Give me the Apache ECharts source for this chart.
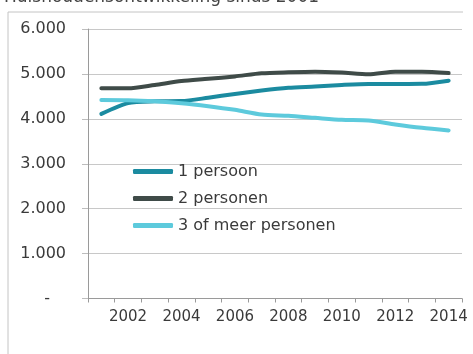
<!DOCTYPE html>
<html>
<head>
<meta charset="utf-8">
<script src="https://cdn.jsdelivr.net/npm/echarts@6/dist/echarts.min.js"></script>
<style>
  html, body { margin: 0; padding: 0; background: #fff; }
  #chart { width: 473px; height: 354px; }
</style>
</head>
<body>
<div id="chart"></div>
<script>
// Huishoudens naar grootte, 2001-2014
const years = ['2001','2002','2003','2004','2005','2006','2007','2008','2009','2010','2011','2012','2013','2014'];
const eenPersoon = [4110, 4350, 4390, 4395, 4470, 4555, 4630, 4690, 4720, 4755, 4778, 4778, 4780, 4850];
const tweePersonen = [4680, 4680, 4755, 4840, 4890, 4945, 5015, 5037, 5050, 5030, 4995, 5050, 5050, 5020];
const drieOfMeer = [4420, 4415, 4390, 4348, 4282, 4200, 4096, 4067, 4022, 3978, 3962, 3875, 3800, 3742];
const seriesNames = ['1 persoon', '2 personen', '3 of meer personen'];
const seriesColors = ['#1b8ba0', '#3f4b48', '#5dcadc'];
const titleText = 'Huishoudensontwikkeling sinds 2001';

const font = 'DejaVu Sans';
const textColor = '#3a3a3a';
const chart = echarts.init(document.getElementById('chart'), null, { renderer: 'canvas' });

// Dutch thousands separator; zero shown as a dash (padded with en spaces)
function fmt(v) {
  if (v === 0) return '-\u2002\u2002';
  return String(v).replace(/\B(?=(\d{3})+(?!\d))/g, '.');
}

const values = [eenPersoon, tweePersonen, drieOfMeer];

chart.setOption({
  animation: false,
  title: {
    text: titleText,
    left: 4,
    top: -11,
    padding: 0,
    textStyle: { fontFamily: font, fontSize: 17, fontWeight: 'normal', color: '#444' }
  },
  graphic: [
    { type: 'line', shape: { x1: 8, y1: 12, x2: 463, y2: 12 }, style: { stroke: '#c4c4c4', lineWidth: 1 } },
    { type: 'line', shape: { x1: 8, y1: 12, x2: 8, y2: 354 }, style: { stroke: '#c4c4c4', lineWidth: 1 } }
  ],
  legend: {
    orient: 'vertical',
    left: 133,
    top: 163,
    padding: 0,
    itemWidth: 40,
    itemHeight: 5,
    itemGap: 10,
    icon: 'roundRect',
    data: seriesNames,
    textStyle: { fontFamily: font, fontSize: 16, color: textColor, lineHeight: 17 }
  },
  grid: { left: 88, right: 11, top: 29, bottom: 55.5 },
  xAxis: {
    type: 'category',
    data: years,
    boundaryGap: true,
    axisLine: { lineStyle: { color: '#9a9a9a' } },
    axisTick: { show: true, interval: 0, length: 4, lineStyle: { color: '#9a9a9a' } },
    axisLabel: {
      interval: (i) => i % 2 === 1,
      margin: 11,
      fontFamily: font, fontSize: 15, color: textColor
    },
    splitLine: { show: false }
  },
  yAxis: {
    type: 'value',
    min: 0, max: 6000, interval: 1000,
    axisLine: { show: true, lineStyle: { color: '#9a9a9a' } },
    axisTick: { show: true, length: 6, lineStyle: { color: '#bdbdbd' } },
    axisLabel: { formatter: fmt, margin: 22, fontFamily: font, fontSize: 16, color: textColor },
    splitLine: { lineStyle: { color: '#c8c8c8' } }
  },
  series: seriesNames.map((name, k) => ({
    name: name,
    type: 'line',
    data: values[k],
    showSymbol: false,
    symbol: 'none',
    smooth: 0.25,
    color: seriesColors[k],
    lineStyle: { width: 4, color: seriesColors[k], cap: 'round', join: 'round' }
  }))
});
</script>
</body>
</html>
